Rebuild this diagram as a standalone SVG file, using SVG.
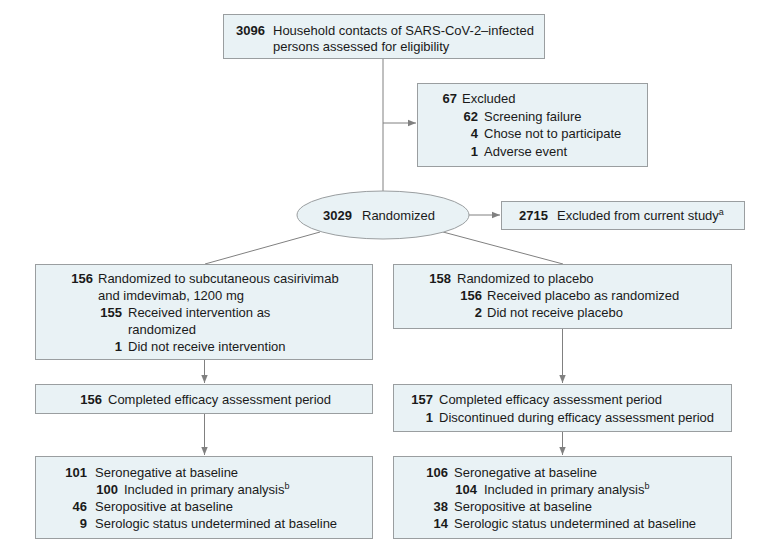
<svg xmlns="http://www.w3.org/2000/svg" width="780" height="551" viewBox="0 0 780 551">
<style>
.box{fill:#e9f2f5;stroke:#9a9ea0;stroke-width:1}
text{font-family:"Liberation Sans",Arial,sans-serif;font-size:13px;fill:#1a1a1a}
.b{font-weight:bold}
.sup{font-size:9px}
.c{fill:none;stroke:#808080;stroke-width:1}
</style>
<defs>
<marker id="ah" viewBox="0 0 10 10" refX="10" refY="5" markerWidth="8" markerHeight="8" markerUnits="userSpaceOnUse" orient="auto">
<path d="M0,1 L10,5 L0,9 Z" fill="#808080"/>
</marker>
</defs>
<rect width="780" height="551" fill="#ffffff"/>
<g id="connectors">
<line class="c" x1="383" y1="58" x2="383" y2="191"/>
<line class="c" x1="383" y1="123" x2="416" y2="123" marker-end="url(#ah)"/>
<line class="c" x1="469" y1="215" x2="500" y2="215" marker-end="url(#ah)"/>
<line class="c" x1="320" y1="232" x2="205" y2="264"/>
<line class="c" x1="443" y1="232" x2="563" y2="264"/>
<line class="c" x1="204.5" y1="359" x2="204.5" y2="383" marker-end="url(#ah)"/>
<line class="c" x1="204.5" y1="413" x2="204.5" y2="455" marker-end="url(#ah)"/>
<line class="c" x1="562.5" y1="328" x2="562.5" y2="383" marker-end="url(#ah)"/>
<line class="c" x1="562.5" y1="431" x2="562.5" y2="455" marker-end="url(#ah)"/>
</g>
<g id="assessed">
<rect class="box" x="223.5" y="14.5" width="321" height="44"/>
<text x="236" y="35" class="b">3096</text>
<text x="273" y="35">Household contacts of SARS-CoV-2–infected</text>
<text x="273" y="51">persons assessed for eligibility</text>
</g>
<g id="excluded">
<rect class="box" x="417.5" y="83.5" width="230" height="83"/>
<text x="457" y="103" class="b" text-anchor="end">67</text>
<text x="462" y="103">Excluded</text>
<text x="478" y="121" class="b" text-anchor="end">62</text>
<text x="484" y="121">Screening failure</text>
<text x="478" y="138" class="b" text-anchor="end">4</text>
<text x="484" y="138">Chose not to participate</text>
<text x="478" y="156" class="b" text-anchor="end">1</text>
<text x="484" y="156">Adverse event</text>
</g>
<g id="randomized">
<ellipse class="box" cx="383" cy="215" rx="86" ry="24"/>
<text x="323" y="220" class="b">3029</text>
<text x="362" y="220">Randomized</text>
</g>
<g id="excluded-current">
<rect class="box" x="501.5" y="201.5" width="243" height="28"/>
<text x="519" y="220" class="b">2715</text>
<text x="557" y="220">Excluded from current study<tspan class="sup" dy="-5">a</tspan></text>
</g>
<g id="arm-active">
<rect class="box" x="35.5" y="264.5" width="337" height="95"/>
<text x="93" y="283" class="b" text-anchor="end">156</text>
<text x="98" y="283">Randomized to subcutaneous casirivimab</text>
<text x="98" y="300">and imdevimab, 1200 mg</text>
<text x="122" y="317" class="b" text-anchor="end">155</text>
<text x="128" y="317">Received intervention as</text>
<text x="128" y="334">randomized</text>
<text x="122" y="351" class="b" text-anchor="end">1</text>
<text x="128" y="351">Did not receive intervention</text>
</g>
<g id="arm-placebo">
<rect class="box" x="393.5" y="264.5" width="338" height="64"/>
<text x="451" y="283" class="b" text-anchor="end">158</text>
<text x="457" y="283">Randomized to placebo</text>
<text x="482" y="300" class="b" text-anchor="end">156</text>
<text x="487" y="300">Received placebo as randomized</text>
<text x="482" y="317" class="b" text-anchor="end">2</text>
<text x="487" y="317">Did not receive placebo</text>
</g>
<g id="completed-active">
<rect class="box" x="35.5" y="384.5" width="337" height="29"/>
<text x="102" y="404" class="b" text-anchor="end">156</text>
<text x="108" y="404">Completed efficacy assessment period</text>
</g>
<g id="completed-placebo">
<rect class="box" x="393.5" y="384.5" width="338" height="47"/>
<text x="433" y="404" class="b" text-anchor="end">157</text>
<text x="439" y="404">Completed efficacy assessment period</text>
<text x="433" y="422" class="b" text-anchor="end">1</text>
<text x="439" y="422">Discontinued during efficacy assessment period</text>
</g>
<g id="analysis-active">
<rect class="box" x="35.5" y="456.5" width="337" height="82"/>
<text x="87" y="477" class="b" text-anchor="end">101</text>
<text x="95" y="477">Seronegative at baseline</text>
<text x="118" y="494" class="b" text-anchor="end">100</text>
<text x="124" y="494">Included in primary analysis<tspan class="sup" dy="-5">b</tspan></text>
<text x="87" y="511" class="b" text-anchor="end">46</text>
<text x="95" y="511">Seropositive at baseline</text>
<text x="87" y="528" class="b" text-anchor="end">9</text>
<text x="95" y="528">Serologic status undetermined at baseline</text>
</g>
<g id="analysis-placebo">
<rect class="box" x="393.5" y="456.5" width="338" height="82"/>
<text x="448" y="477" class="b" text-anchor="end">106</text>
<text x="454" y="477">Seronegative at baseline</text>
<text x="477" y="494" class="b" text-anchor="end">104</text>
<text x="484" y="494">Included in primary analysis<tspan class="sup" dy="-5">b</tspan></text>
<text x="448" y="511" class="b" text-anchor="end">38</text>
<text x="454" y="511">Seropositive at baseline</text>
<text x="448" y="528" class="b" text-anchor="end">14</text>
<text x="454" y="528">Serologic status undetermined at baseline</text>
</g>
</svg>
